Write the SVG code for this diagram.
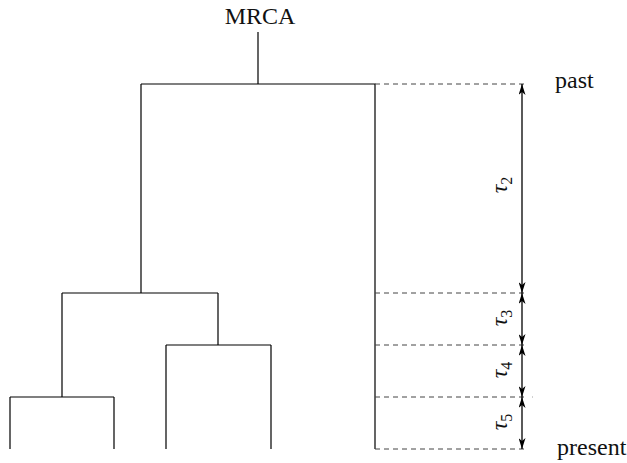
<svg xmlns="http://www.w3.org/2000/svg" width="627" height="463" viewBox="0 0 627 463">
<style>
.t{stroke:#000;stroke-width:1.2;fill:none}
.d{stroke:#444;stroke-width:1;stroke-dasharray:5,4;fill:none}
.a{stroke:#000;stroke-width:1.3;fill:none;marker-start:url(#ah);marker-end:url(#ah)}
text{font-family:"Liberation Serif","DejaVu Serif",serif;fill:#111}
.lab{font-size:24px}
.tau{font-size:24px;font-style:italic}
.sub{font-size:16px;font-style:normal}
</style>
<defs>
<marker id="ah" viewBox="0 0 11 7" refX="11" refY="3.5" markerWidth="11" markerHeight="7" markerUnits="userSpaceOnUse" orient="auto-start-reverse">
<path d="M0,0 L11,3.5 L0,7 L3,3.5 Z" fill="#000"/>
</marker>
</defs>
<g id="mrca">
<text class="lab" x="260" y="24" text-anchor="middle">MRCA</text>
</g>
<g id="tree">
<path class="t" d="M258,32 V84 M141,84 H375 V449 M141,84 V293 M62,293 H218 M62,293 V397 M218,293 V345 M166,345 H271 M166,345 V449 M271,345 V449 M10,397 H114 M10,397 V449 M114,397 V449"/>
</g>
<g id="connectors">
<path class="d" d="M375,84 H525 M375,293 H525 M375,345 H525 M375,397 H525 M375,449 H525"/>
<line x1="532" y1="397" x2="532.5" y2="397" stroke="#444" stroke-width="1"/>
<line class="a" x1="522" y1="84" x2="522" y2="293"/>
<line class="a" x1="522" y1="293" x2="522" y2="345"/>
<line class="a" x1="522" y1="345" x2="522" y2="397"/>
<line class="a" x1="522" y1="397" x2="522" y2="449"/>
</g>
<g id="past"><text class="lab" x="555" y="88">past</text></g>
<g id="present"><text class="lab" x="557" y="455">present</text></g>
<g id="tau2"><text class="tau" transform="translate(507,185) rotate(-90)" text-anchor="middle">τ<tspan class="sub" dy="5">2</tspan></text></g>
<g id="tau3"><text class="tau" transform="translate(507,318) rotate(-90)" text-anchor="middle">τ<tspan class="sub" dy="5">3</tspan></text></g>
<g id="tau4"><text class="tau" transform="translate(507,370) rotate(-90)" text-anchor="middle">τ<tspan class="sub" dy="5">4</tspan></text></g>
<g id="tau5"><text class="tau" transform="translate(507,422) rotate(-90)" text-anchor="middle">τ<tspan class="sub" dy="5">5</tspan></text></g>
</svg>
